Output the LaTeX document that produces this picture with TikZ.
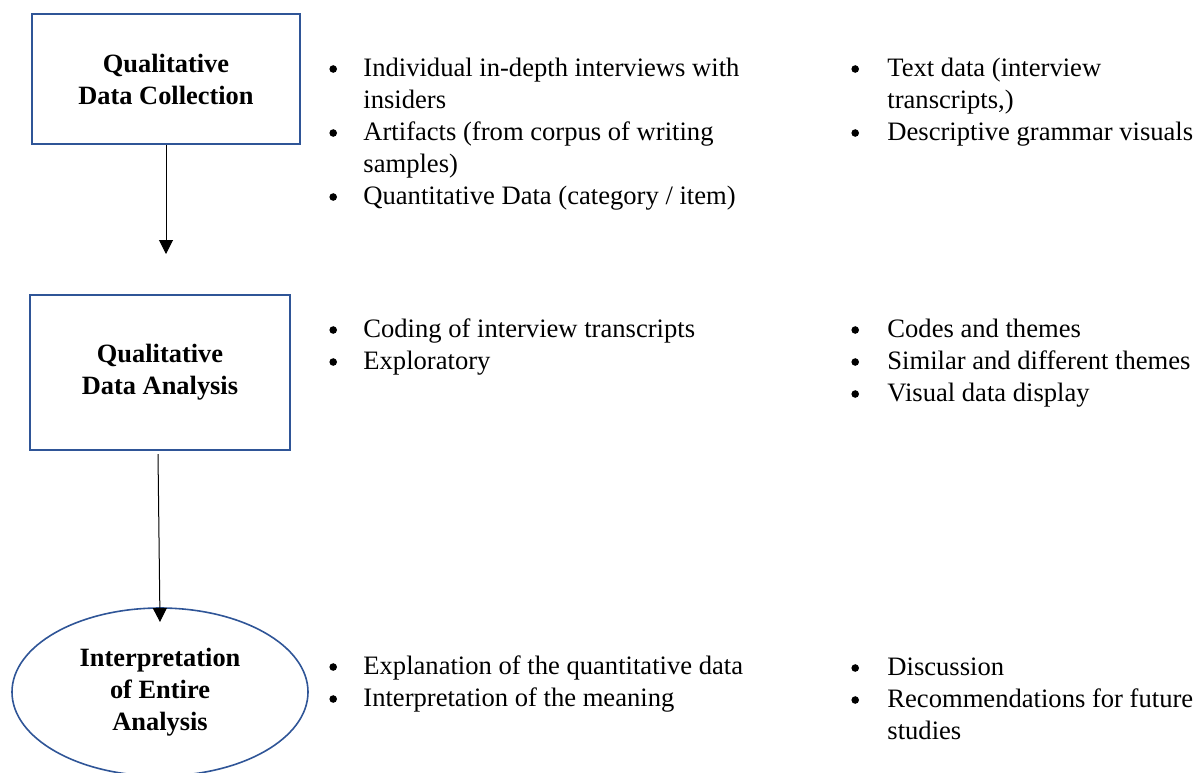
\documentclass[tikz,border=0pt]{standalone}
\usepackage{fontspec}
\setmainfont{Liberation Serif}
\usetikzlibrary{shapes.geometric,arrows.meta}
\definecolor{boxblue}{HTML}{2F5597}
\newcommand{\bdot}{\tikz[baseline={(0pt,-3.5pt)}]\fill[black] (0pt,0pt) circle (1.9pt);}
\newcommand{\itm}[1]{\makebox[17pt][l]{\bdot}#1}
\newcommand{\itmb}[1]{\makebox[18pt][l]{\bdot}#1}
\newcommand{\cnt}[1]{\hspace*{17pt}#1}
\newcommand{\cntb}[1]{\hspace*{18pt}#1}
\tikzset{
  stagebox/.style={draw=boxblue, line width=1pt, rectangle, inner sep=0pt, align=center,
    font=\fontsize{13.2}{16}\selectfont\bfseries},
  stageoval/.style={draw=boxblue, line width=0.8pt, ellipse, inner sep=0pt, align=center,
    minimum width=148pt, minimum height=84pt, font=\fontsize{13.2}{16}\selectfont\bfseries},
  itemlist/.style={anchor=base west, inner sep=0pt, align=left,
    font=\fontsize{13.3}{16}\selectfont},
  flow/.style={draw=black, line width=0.5pt, -{Triangle[width=7pt,length=7pt]}}
}
\begin{document}
\begin{tikzpicture}[x=0.5pt,y=-0.5pt]
\useasboundingbox (0,0) rectangle (1197,772);
% stages
\node[stagebox, minimum width=134pt, minimum height=65pt] (b1) at (166,79) {Qualitative\\Data Collection};
\node[stagebox, minimum width=130pt, minimum height=77.5pt] (b2) at (160,372.5) {Qualitative\\Data Analysis};
\node[stageoval] (e3) at (160,692) {Interpretation\\of Entire\\Analysis};
% connectors
\coordinate (a1end) at (166,254);
\coordinate (a2start) at (158,454);
\coordinate (a2end) at (160,622);
\draw[flow] (b1.south) -- (a1end);
\draw[flow] (a2start) -- (a2end);
% lists row 1 (anchor = baseline of last line)
\node[itemlist] (l1a) at (329,204) {\itm{Individual in-depth interviews with}\\\cnt{insiders}\\\itm{Artifacts (from corpus of writing}\\\cnt{samples)}\\\itm{Quantitative Data (category / item)}};
\node[itemlist] (l1b) at (851,140) {\itmb{Text data (interview}\\\cntb{transcripts,)}\\\itmb{Descriptive grammar visuals}};
% lists row 2
\node[itemlist] (l2a) at (329,369) {\itm{Coding of interview transcripts}\\\itm{Exploratory}};
\node[itemlist] (l2b) at (851,401) {\itmb{Codes and themes}\\\itmb{Similar and different themes}\\\itmb{Visual data display}};
% lists row 3
\node[itemlist] (l3a) at (329,706) {\itm{Explanation of the quantitative data}\\\itm{Interpretation of the meaning}};
\node[itemlist] (l3b) at (851,739) {\itmb{Discussion}\\\itmb{Recommendations for future}\\\cntb{studies}};
\end{tikzpicture}
\end{document}
